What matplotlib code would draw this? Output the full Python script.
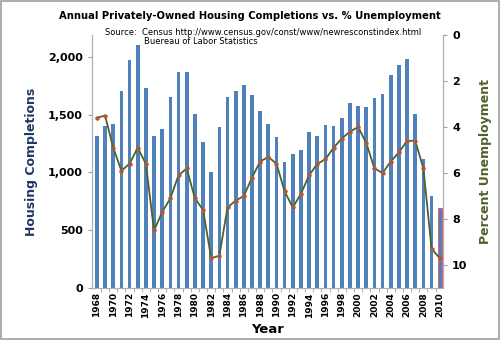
import numpy as np
import matplotlib.pyplot as plt
from matplotlib.patches import Rectangle

years = list(range(1968, 2011))
completions = [1320, 1399, 1418, 1706, 1972, 2100, 1729, 1317, 1377, 1657,
               1868, 1871, 1502, 1266, 1006, 1390, 1652, 1703, 1756, 1669,
               1530, 1423, 1308, 1091, 1158, 1193, 1347, 1313, 1413, 1400,
               1474, 1605, 1574, 1571, 1648, 1679, 1842, 1932, 1979, 1503,
               1120, 794, 690]
unemployment = [3.6, 3.5, 4.9, 5.9, 5.6, 4.9, 5.6, 8.5, 7.7, 7.1,
                6.1, 5.8, 7.1, 7.6, 9.7, 9.6, 7.5, 7.2, 7.0, 6.2,
                5.5, 5.3, 5.6, 6.8, 7.5, 6.9, 6.1, 5.6, 5.4, 4.9,
                4.5, 4.2, 4.0, 4.7, 5.8, 6.0, 5.5, 5.1, 4.6, 4.6,
                5.8, 9.3, 9.7]

fig = plt.figure(figsize=(5, 3.4), dpi=100)
fig.patches.append(Rectangle((0.002, 0.003), 0.995, 0.994, transform=fig.transFigure,
                             fill=False, edgecolor='#a0a0a0', lw=1.2))
ax = fig.add_axes([0.184, 0.153, 0.702, 0.744])
x = np.arange(len(years))

# all bars blue, last (partial year) outlined in red
ax.bar(x[:-1], completions[:-1], width=0.45, color='#4F81BD', linewidth=0)
ax.bar(x[-1:], completions[-1:], width=0.5, color='#4F81BD',
       edgecolor='#FF3333', linewidth=0.5)
ax.set_xlim(-0.6, len(years) - 0.6)
ax.set_ylim(0, 2190)
ax.set_yticks([0, 500, 1000, 1500, 2000])
ax.set_yticklabels(['0', '500', '1,000', '1,500', '2,000'], fontsize=8, fontweight='bold')
ax.set_xticks(x[::2])
ax.set_xticklabels([str(y) for y in years[::2]], rotation=90, fontsize=6.5, fontweight='bold')
ax.set_xticks(x[:-1] + 0.5, minor=True)
ax.tick_params(axis='x', which='major', length=0, pad=3)
ax.tick_params(axis='x', which='minor', length=3, color='#a0a0a0')
ax.tick_params(axis='y', length=3, color='#a0a0a0')
ax.spines['top'].set_visible(False)
for s in ['left', 'bottom', 'right']:
    ax.spines[s].set_color('#b0b0b0')
ax.set_ylabel('Housing Completions', fontsize=9, fontweight='bold', color='#1F3864', labelpad=7)
ax.set_xlabel('Year', fontsize=9.5, fontweight='bold', labelpad=4)

ax2 = ax.twinx()
ax2.plot(x, unemployment, color='#4F6228', lw=1.3, marker='o', markersize=2.6,
         markerfacecolor='#7F6A2A', markeredgecolor='#E05050', markeredgewidth=0.6)
ax2.set_ylim(11, 0)
ax2.set_yticks([0, 2, 4, 6, 8, 10])
ax2.set_yticklabels(['0', '2', '4', '6', '8', '10'], fontsize=8, fontweight='bold')
ax2.tick_params(axis='y', length=3, color='#a0a0a0')
ax2.spines['top'].set_visible(False)
for s in ['left', 'bottom', 'right']:
    ax2.spines[s].set_color('#b0b0b0')
ax2.set_ylabel('Percent Unemployment', fontsize=9, fontweight='bold', color='#4F6228', labelpad=8)

fig.text(0.5, 0.953, 'Annual Privately-Owned Housing Completions vs. % Unemployment',
         ha='center', va='center', fontsize=7.2, fontweight='bold')
fig.text(0.21, 0.905, 'Source:  Census http://www.census.gov/const/www/newresconstindex.html',
         ha='left', va='center', fontsize=6)
fig.text(0.288, 0.877, 'Buereau of Labor Statistics', ha='left', va='center', fontsize=6)

fig.savefig('out.png', dpi=100)
